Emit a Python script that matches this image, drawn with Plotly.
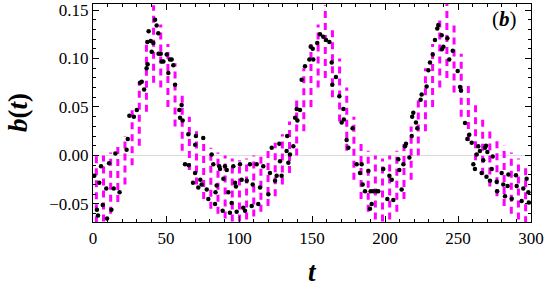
import plotly.graph_objects as go

# magenta dashed series: oscillation columns, time and the low / high value of b(t)
t_osc = [2.3, 7.2, 12.1, 17.0, 21.9, 26.8, 31.7, 36.6, 41.5, 46.4, 51.3, 56.2, 61.1, 66.0,
         70.9, 75.8, 80.7, 85.6, 90.5, 95.4, 100.3, 105.2, 110.1, 115.0, 119.9, 124.8,
         129.7, 134.6, 139.5, 144.4, 149.3, 154.2, 159.1, 164.0, 168.9, 173.8, 178.7,
         183.6, 188.5, 193.4, 198.3, 203.2, 208.1, 213.0, 217.9, 222.8, 227.7, 232.6,
         237.5, 242.4, 247.3, 252.2, 257.1, 262.0, 266.9, 271.8, 276.7, 281.6, 286.5,
         291.4, 296.3]
b_low = [-0.070, -0.068, -0.060, -0.048, -0.030, -0.010, 0.010, 0.045, 0.075, 0.070,
         0.050, 0.030, 0.005, -0.015, -0.030, -0.045, -0.055, -0.060, -0.065, -0.068,
         -0.068, -0.066, -0.063, -0.058, -0.052, -0.042, -0.030, -0.018, 0.000, 0.025,
         0.050, 0.070, 0.080, 0.060, 0.035, 0.005, -0.025, -0.045, -0.058, -0.066,
         -0.068, -0.066, -0.058, -0.045, -0.025, 0.000, 0.025, 0.050, 0.070, 0.080,
         0.065, 0.040, 0.015, -0.005, -0.020, -0.032, -0.042, -0.052, -0.060, -0.066,
         -0.070]
b_high = [0.000, 0.000, 0.003, 0.010, 0.020, 0.048, 0.075, 0.118, 0.155, 0.135,
          0.115, 0.095, 0.065, 0.040, 0.025, 0.015, 0.008, 0.003, 0.000, -0.003,
          -0.005, -0.003, 0.000, 0.003, 0.007, 0.013, 0.022, 0.035, 0.060, 0.090,
          0.115, 0.135, 0.155, 0.130, 0.100, 0.070, 0.040, 0.015, 0.005, 0.000,
          -0.003, 0.000, 0.005, 0.012, 0.030, 0.060, 0.090, 0.115, 0.140, 0.157,
          0.135, 0.105, 0.075, 0.055, 0.040, 0.028, 0.018, 0.010, 0.003, -0.003,
          -0.008]

# black dots series
t_dots = [0.9, 2.7, 3.4, 4.3, 5.5, 6.7, 9.1, 9.6, 11.0, 12.6, 14.2, 15.3, 18.2, 23.0, 23.8,
          24.9, 28.0, 30.0, 32.2, 33.4, 35.0, 36.7, 37.2, 37.4, 38.1, 39.5, 40.2, 41.3, 42.5,
          43.6, 44.7, 44.9, 46.4, 47.0, 48.2, 50.5, 51.6, 52.7, 53.9, 55.0, 56.2, 59.1, 59.6,
          60.7, 61.4, 63.0, 65.3, 65.6, 68.5, 69.9, 70.0, 70.5, 72.1, 73.5, 74.4, 75.5, 77.9,
          79.0, 81.3, 82.4, 83.6, 83.9, 84.7, 86.5, 87.0, 88.8, 89.3, 90.4, 91.6, 92.7, 93.8,
          95.0, 96.1, 97.3, 97.9, 98.4, 100.7, 101.8, 102.9, 104.1, 105.3, 107.5, 108.7,
          109.4, 112.1, 113.2, 114.4, 116.6, 120.1, 121.2, 122.4, 124.7, 125.8, 127.6, 128.1,
          129.2, 132.6, 133.0, 133.8, 134.9, 137.2, 138.4, 139.5, 140.0, 141.8, 142.9, 145.2,
          148.2, 149.1, 150.5, 150.9, 153.6, 155.5, 157.7, 159.6, 161.9, 163.5, 163.9, 166.4,
          168.7, 170.3, 171.5, 171.8, 173.7, 174.9, 177.8, 180.6, 182.9, 184.0, 184.7, 186.3,
          188.6, 189.7, 190.2, 190.9, 192.0, 194.3, 195.4, 198.8, 201.6, 203.0, 204.6, 205.7,
          209.1, 209.8, 211.4, 212.6, 213.7, 214.4, 216.7, 218.3, 218.6, 219.4, 221.2, 222.1,
          224.4, 225.1, 228.5, 229.7, 230.8, 232.7, 234.2, 235.8, 236.5, 238.8, 239.0, 240.0,
          242.7, 244.0, 246.4, 249.8, 251.4, 252.0, 254.8, 256.4, 257.7, 259.4, 260.5, 261.6,
          262.8, 263.9, 265.0, 266.2, 267.3, 268.5, 269.2, 269.5, 270.1, 271.9, 273.1, 273.8,
          276.5, 276.8, 279.9, 281.0, 282.2, 284.0, 284.5, 286.8, 289.7, 290.2, 293.6, 294.7,
          297.0, 298.2, 298.5]
b_dots = [-0.021, -0.056, -0.062, -0.028, -0.011, -0.051, -0.034, -0.065, -0.008, -0.056,
          -0.034, 0.002, -0.038, 0.006, 0.017, 0.041, 0.040, 0.047, 0.075, 0.076, 0.068,
          0.090, 0.117, 0.094, 0.128, 0.118, 0.107, 0.116, 0.140, 0.134, 0.126, 0.105,
          0.105, 0.097, 0.097, 0.104, 0.085, 0.099, 0.099, 0.093, 0.073, 0.047, 0.039,
          0.052, 0.036, -0.009, 0.022, -0.010, -0.028, -0.018, 0.011, 0.020, -0.033, -0.025,
          -0.030, 0.018, -0.035, -0.045, 0.001, -0.009, -0.050, -0.038, -0.031, -0.011,
          -0.014, -0.057, -0.024, -0.011, -0.015, -0.038, -0.059, -0.049, -0.011, -0.028,
          -0.032, -0.058, -0.009, -0.025, -0.054, -0.057, -0.026, -0.009, -0.052, -0.030,
          -0.009, -0.050, -0.033, -0.011, -0.040, -0.018, 0.008, -0.026, -0.021, 0.012,
          -0.006, -0.021, 0.0045, 0.020, -0.0075, 0.001, 0.0095, 0.039, 0.048, 0.036, 0.047,
          0.078, 0.092, 0.099, 0.112, 0.110, 0.099, 0.116, 0.125, 0.1225, 0.119, 0.117,
          0.096, 0.073, 0.081, 0.061, 0.034, 0.048, 0.037, 0.016, 0.008, 0.028, -0.009,
          -0.018, -0.009, -0.030, -0.037, -0.016, -0.055, -0.037, -0.050, -0.037, -0.037,
          -0.037, -0.014, -0.045, -0.021, -0.025, -0.046, -0.004, -0.015, -0.035, -0.009,
          0.0095, 0.012, -0.002, 0.020, 0.040, 0.044, 0.034, 0.028, 0.0575, 0.063, 0.071,
          0.088, 0.096, 0.104, 0.119, 0.131, 0.1345, 0.124, 0.1095, 0.112, 0.121, 0.099,
          0.108, 0.087, 0.0705, 0.067, 0.0335, 0.017, 0.0215, 0.013, -0.009, -0.014, 0.001,
          0.0095, 0.0045, -0.018, -0.005, 0.008, 0.010, -0.022, 0.0035, -0.026, -0.014,
          -0.001, -0.027, -0.037, -0.018, -0.030, -0.042, -0.0315, -0.0195, -0.0445,
          -0.0205, -0.0315, -0.047, -0.034, -0.024, -0.038, -0.0485]

x_ticks = [0, 50, 100, 150, 200, 250, 300]
y_ticks = [-0.05, 0.00, 0.05, 0.10, 0.15]

FONT = "Liberation Serif"

# build the oscillation strokes (each column drawn from its low to its high value)
seg_x, seg_y = [], []
for t, lo, hi in zip(t_osc, b_low, b_high):
    seg_x += [t, t, None]
    seg_y += [lo, hi, None]

fig = go.Figure()
fig.add_trace(go.Scatter(x=seg_x, y=seg_y, mode="lines", connectgaps=False,
                         line=dict(color="#FF00FF", width=3, dash="7px,5px"),
                         hoverinfo="skip"))
fig.add_trace(go.Scatter(x=t_dots, y=b_dots, mode="markers",
                         marker=dict(color="black", size=4.5, line=dict(width=0))))

axis_common = dict(
    showline=True, linecolor="black", linewidth=1.2, mirror="ticks",
    ticks="inside", ticklen=6, tickwidth=1, tickcolor="black",
    showgrid=False, automargin=False,
    tickfont=dict(family=FONT, size=17, color="black"),
)

fig.update_layout(
    width=546, height=294,
    margin=dict(l=93, r=15, t=4, b=72),
    paper_bgcolor="white", plot_bgcolor="white",
    showlegend=False,
    xaxis=dict(range=[0, 300], tickvals=x_ticks, zeroline=False,
               minor=dict(ticks="inside", dtick=10, tick0=0, ticklen=3, tickcolor="black"),
               **axis_common),
    yaxis=dict(range=[-0.0686, 0.1562], tickvals=y_ticks, tickformat=".2f",
               zeroline=True, zerolinecolor="#dcdcdc", zerolinewidth=1,
               minor=dict(ticks="inside", dtick=0.01, tick0=0, ticklen=3, tickcolor="black"),
               **axis_common),
    annotations=[
        dict(text="<b><i>b</i>(<i>t</i>)</b>", xref="paper", yref="paper", x=0, y=0.5,
             xanchor="center", yanchor="middle", xshift=-75, textangle=-90, showarrow=False,
             font=dict(family=FONT, size=27, color="black")),
        dict(text="<b><i>t</i></b>", xref="paper", yref="paper", x=0.5, y=0,
             xanchor="center", yanchor="middle", yshift=-50, showarrow=False,
             font=dict(family=FONT, size=27, color="black")),
        dict(text="(<b><i>b</i></b>)", xref="paper", yref="paper", x=0.9406, y=0.931,
             xanchor="center", yanchor="middle", showarrow=False,
             font=dict(family=FONT, size=21, color="black")),
    ],
)

fig.write_html("out.html",
               config={"displayModeBar": False},
               post_script="document.body.style.margin='0px';"
                           "document.body.style.overflow='hidden';")
